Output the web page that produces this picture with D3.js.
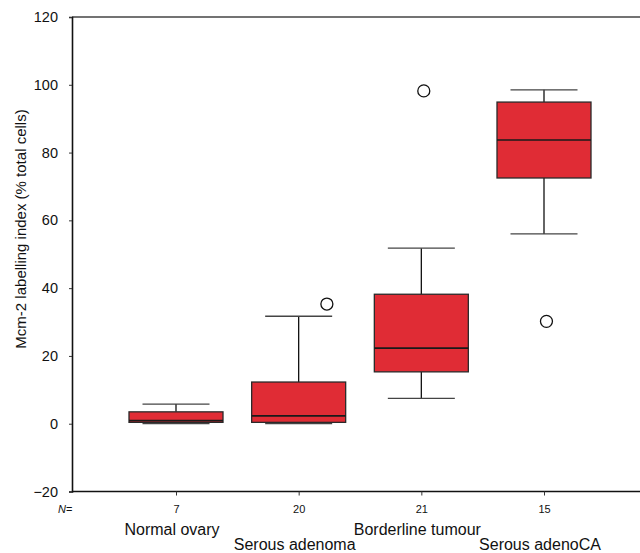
<!DOCTYPE html>
<html>
<head>
<meta charset="utf-8">
<script src="https://cdn.jsdelivr.net/npm/d3@7"></script>
<style>
  html, body { margin: 0; padding: 0; background: #fff; }
  svg { display: block; font-family: "Liberation Sans", Arial, sans-serif; }
</style>
</head>
<body>
<svg id="chart" width="640" height="553"></svg>
<script>
// ---- data ----
const categories = ["Normal ovary", "Serous adenoma", "Borderline tumour", "Serous adenoCA"];
const nCounts = [7, 20, 21, 15];
const whiskerLow = [0, 0, 7.5, 56.0];
const q1 = [0.4, 0.4, 15.3, 72.5];
const medians = [0.9, 2.3, 22.3, 83.7];
const q3 = [3.5, 12.3, 38.2, 94.9];
const whiskerHigh = [5.8, 31.7, 51.8, 98.5];
const outlierCats = ["Serous adenoma", "Borderline tumour", "Serous adenoCA"];
const outlierVals = [35.3, 98.2, 30.2];
const outlierShift = [0.23, 0.02, 0.02]; // fraction of category step
const yTicks = [-20, 0, 20, 40, 60, 80, 100, 120];

// ---- layout ----
const svg = d3.select("#chart");
const W = 640, H = 553;
const plotLeft = 72, plotTop = 17, plotBottom = 491.5;

const x = d3.scalePoint().domain(categories).range([176, 544]);
const y = d3.scaleLinear().domain([-20, 120]).range([plotBottom, plotTop]);
const step = x.step();
const boxW = 94, capW = 67;

// frame line on top
svg.append("line").attr("x1", plotLeft).attr("x2", W).attr("y1", plotTop).attr("y2", plotTop)
  .attr("stroke", "#444").attr("stroke-width", 1.5);

// y axis
const yAxis = d3.axisLeft(y).tickValues(yTicks).tickSize(3).tickPadding(11)
  .tickFormat(d => d < 0 ? "\u2212" + Math.abs(d) : d);
const gy = svg.append("g").attr("transform", `translate(${plotLeft},0)`).call(yAxis);
gy.select(".domain").attr("stroke", "#111").attr("stroke-width", 1.6);
gy.selectAll(".tick line").attr("stroke", "#333");
gy.selectAll(".tick text").attr("font-size", 14.5).attr("fill", "#111");

// x axis
const xAxis = d3.axisBottom(x).tickSize(4).tickFormat((d, i) => nCounts[i]);
const gx = svg.append("g").attr("transform", `translate(0,${plotBottom})`).call(xAxis);
gx.select(".domain").attr("d", `M${plotLeft},0H${W}`).attr("stroke", "#111").attr("stroke-width", 1.6);
gx.selectAll(".tick line").attr("stroke", "#333");
gx.selectAll(".tick text").attr("font-size", 11).attr("fill", "#111").attr("y", 21).attr("dy", 0);

// N= label
svg.append("text").attr("x", 58).attr("y", 512.5).attr("font-size", 11).attr("fill", "#111")
  .html('<tspan font-style="italic">N</tspan>=');

// category labels (staggered)
svg.selectAll("text.cat").data(categories).join("text")
  .attr("class", "cat")
  .attr("x", d => x(d) - 4)
  .attr("y", (d, i) => i % 2 === 0 ? 535 : 549.5)
  .attr("text-anchor", "middle")
  .attr("font-size", 16)
  .attr("fill", "#111")
  .text(d => d);

// y label
svg.append("text")
  .attr("transform", `translate(26,229) rotate(-90)`)
  .attr("text-anchor", "middle")
  .attr("font-size", 15)
  .attr("fill", "#111")
  .text("Mcm-2 labelling index (% total cells)");

// boxes
const g = svg.append("g");
categories.forEach((c, i) => {
  const cx = x(c);
  g.append("line").attr("x1", cx).attr("x2", cx).attr("y1", y(q3[i])).attr("y2", y(whiskerHigh[i]))
    .attr("stroke", "#111").attr("stroke-width", 1.3);
  g.append("line").attr("x1", cx).attr("x2", cx).attr("y1", y(q1[i])).attr("y2", y(whiskerLow[i]))
    .attr("stroke", "#111").attr("stroke-width", 1.3);
  g.append("line").attr("x1", cx - capW / 2).attr("x2", cx + capW / 2)
    .attr("y1", y(whiskerHigh[i])).attr("y2", y(whiskerHigh[i]))
    .attr("stroke", "#444").attr("stroke-width", 1.3);
  g.append("line").attr("x1", cx - capW / 2).attr("x2", cx + capW / 2)
    .attr("y1", y(whiskerLow[i])).attr("y2", y(whiskerLow[i]))
    .attr("stroke", "#444").attr("stroke-width", 1.3);
  g.append("rect").attr("x", cx - boxW / 2).attr("width", boxW)
    .attr("y", y(q3[i])).attr("height", y(q1[i]) - y(q3[i]))
    .attr("fill", "#e02c35").attr("stroke", "#2a2a2a").attr("stroke-width", 1.3);
  g.append("line").attr("x1", cx - boxW / 2).attr("x2", cx + boxW / 2)
    .attr("y1", y(medians[i])).attr("y2", y(medians[i]))
    .attr("stroke", "#1a1a1a").attr("stroke-width", 1.6);
});

// outliers
outlierCats.forEach((c, i) => {
  g.append("circle").attr("cx", x(c) + outlierShift[i] * step).attr("cy", y(outlierVals[i]))
    .attr("r", 6).attr("fill", "none").attr("stroke", "#111").attr("stroke-width", 1.3);
});
</script>
</body>
</html>
